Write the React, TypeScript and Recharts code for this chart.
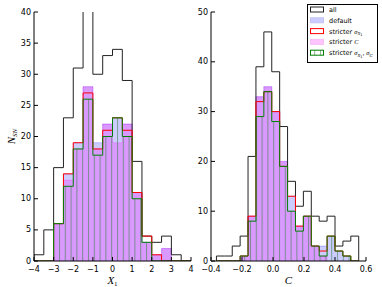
import React from "react"
import { ComposedChart, Area, XAxis, YAxis } from "recharts"

// left panel: X1 histogram, bins of 0.5
const x1Edges = [-4, -3.5, -3, -2.5, -2, -1.5, -1, -0.5, 0, 0.5, 1, 1.5, 2, 2.5, 3, 3.5, 4]
const x1All = [1, 5, 15, 23, 31, 44, 30, 33, 34, 29, 16, 4, 3, 4, 1, 0]
const x1Default = [0, 0, 6, 14, 19, 28, 19, 22, 23, 22, 11, 3, 1, 2, 0, 0]
const x1StricterSx = [0, 0, 6, 14, 19, 27, 18, 21, 23, 21, 11, 4, 1, 0, 0, 0]
const x1StricterC = [0, 0, 6, 13, 18, 28, 18, 22, 19, 22, 11, 3, 1, 2, 0, 0]
const x1StricterBoth = [0, 0, 6, 12, 18, 26, 17, 20, 23, 20, 10, 3, 0, 0, 0, 0]
const x1Ticks = [-4, -3, -2, -1, 0, 1, 2, 3, 4]
const x1CountTicks = [0, 5, 10, 15, 20, 25, 30, 35, 40]

// right panel: C histogram
const cEdges = [-0.365, -0.314, -0.263, -0.212, -0.161, -0.11, -0.059, -0.008, 0.043, 0.094, 0.145, 0.196, 0.247, 0.298, 0.349, 0.4, 0.451, 0.502, 0.553]
const cAll = [1, 1, 3, 5, 21, 39, 46, 38, 27, 16, 11, 14, 9, 8, 9, 3, 4, 5]
const cDefault = [0, 0, 0, 1, 9, 33, 35, 30, 20, 13, 7, 9, 3, 3, 5, 2, 1, 0]
const cStricterSx = [0, 0, 0, 1, 9, 32, 34, 30, 19, 13, 7, 9, 3, 2, 5, 2, 1, 0]
const cStricterC = [0, 0, 0, 1, 9, 33, 35, 30, 20, 10, 7, 9, 3, 1, 0, 0, 0, 0]
const cStricterBoth = [0, 0, 0, 1, 8, 29, 34, 28, 19, 10, 6, 9, 3, 1, 5, 2, 1, 0]
const cTicks = [-0.4, -0.2, 0, 0.2, 0.4, 0.6]
const cCountTicks = [0, 10, 20, 30, 40, 50]

const keys = ["all", "def", "sx", "sc", "both"]

function histRows(edges: number[], series: number[][]) {
  const rows: any[] = []
  const first: any = { x: edges[0] }
  keys.forEach((k) => (first[k] = 0))
  rows.push(first)
  edges.forEach((e, i) => {
    const row: any = { x: e }
    keys.forEach((k, j) => (row[k] = i < edges.length - 1 ? series[j][i] : 0))
    rows.push(row)
  })
  return rows
}

const x1Data = histRows(x1Edges, [x1All, x1Default, x1StricterSx, x1StricterC, x1StricterBoth])
const cData = histRows(cEdges, [cAll, cDefault, cStricterSx, cStricterC, cStricterBoth])

const tickFont = "DejaVu Sans, sans-serif"
const mathFont = "Liberation Serif, DejaVu Serif, serif"
const minus = (s: string) => s.replace("-", "\u2212")
const fmtInt = (v: number) => minus(String(v))
const fmtDec = (v: number) => minus(v.toFixed(1))

const bottomTick = (fmt: (v: number) => string) => (p: any) => (
  <g>
    <line x1={p.x} x2={p.x} y1={p.y} y2={p.y - 4} stroke="#000" />
    <text x={p.x} y={p.y + 11} textAnchor="middle" fontSize={8} fontFamily={tickFont} fill="#000">
      {fmt(p.payload.value)}
    </text>
  </g>
)
const topTick = (p: any) => <line x1={p.x} x2={p.x} y1={p.y} y2={p.y + 4} stroke="#000" />
const leftTick = (p: any) => (
  <g>
    <line x1={p.x} x2={p.x + 4} y1={p.y} y2={p.y} stroke="#000" />
    <text x={p.x - 3} y={p.y + 2.5} textAnchor="end" fontSize={8} fontFamily={tickFont} fill="#000">
      {p.payload.value}
    </text>
  </g>
)
const rightTick = (p: any) => <line x1={p.x} x2={p.x - 4} y1={p.y} y2={p.y} stroke="#000" />

function Series() {
  return [
    <Area key="def" type="stepAfter" dataKey="def" fill="blue" fillOpacity={0.2} stroke="blue" strokeOpacity={0.2} dot={false} activeDot={false} isAnimationActive={false} />,
    <Area key="sc" type="stepAfter" dataKey="sc" fill="magenta" fillOpacity={0.25} stroke="magenta" strokeOpacity={0.2} dot={false} activeDot={false} isAnimationActive={false} />,
    <Area key="all" type="stepAfter" dataKey="all" fill="none" stroke="#222" strokeWidth={1} dot={false} activeDot={false} isAnimationActive={false} />,
    <Area key="sx" type="stepAfter" dataKey="sx" fill="none" stroke="red" strokeWidth={1} dot={false} activeDot={false} isAnimationActive={false} />,
    <Area key="both" type="stepAfter" dataKey="both" fill="url(#hatch)" fillOpacity={1} stroke="green" strokeWidth={1} dot={false} activeDot={false} isAnimationActive={false} />,
  ]
}

function Panel({ data, xDomain, xTicks, yDomain, yTicks, fmt, width, yWidth, right, xLabel }: any) {
  return (
    <ComposedChart width={width} height={287} data={data} margin={{ top: 12, right, bottom: 0, left: 0 }}>
      <XAxis
        dataKey="x" type="number" domain={xDomain} ticks={xTicks} interval={0} allowDataOverflow
        tickSize={0} tickMargin={0} height={26} axisLine={{ stroke: "#000" }} tick={bottomTick(fmt)}
        label={(p: any) => {
          const vb = p.viewBox || {}
          return (
            <text x={vb.x + vb.width / 2} y={vb.y + 23} textAnchor="middle" fontSize={11} fontStyle="italic" fontFamily={mathFont}>
              {xLabel}
            </text>
          )
        }}
      />
      <XAxis xAxisId="top" orientation="top" dataKey="x" type="number" domain={xDomain} ticks={xTicks} interval={0}
        allowDataOverflow tickSize={0} tickMargin={0} height={0} axisLine={{ stroke: "#000" }} tick={topTick} />
      <YAxis type="number" domain={yDomain} ticks={yTicks} interval={0} allowDataOverflow tickSize={0} tickMargin={0}
        width={yWidth} axisLine={{ stroke: "#000" }} tick={leftTick} />
      <YAxis yAxisId="right" orientation="right" type="number" domain={yDomain} ticks={yTicks} interval={0}
        allowDataOverflow tickSize={0} tickMargin={0} width={0} axisLine={{ stroke: "#000" }} tick={rightTick} />
      {Series()}
    </ComposedChart>
  )
}

const legendItems = ["all", "default", "stricter sx", "stricter C", "stricter both"]

function Sub({ children }: any) {
  return <tspan fontFamily={mathFont} fontStyle="italic">{children}</tspan>
}

function LegendLabel({ name }: { name: string }) {
  if (name === "stricter sx")
    return (<>stricter <Sub>σ</Sub><tspan fontSize={4.5} dy={1.5} fontFamily={mathFont} fontStyle="italic">X</tspan><tspan fontSize={3.5} dy={1}>1</tspan></>)
  if (name === "stricter C")
    return (<>stricter <Sub>C</Sub></>)
  if (name === "stricter both")
    return (<>stricter <Sub>σ</Sub><tspan fontSize={4.5} dy={1.5} fontFamily={mathFont} fontStyle="italic">X</tspan><tspan fontSize={3.5} dy={1}>1</tspan><tspan dy={-2.5} fontSize={6}>, </tspan><Sub>σ</Sub><tspan fontSize={4.5} dy={1.5} fontFamily={mathFont} fontStyle="italic">C</tspan></>)
  return <>{name}</>
}

const swatchStyle: Record<string, any> = {
  all: { fill: "#fff", stroke: "#222" },
  default: { fill: "#ccccff", stroke: "#c4c4f4" },
  "stricter sx": { fill: "#fff", stroke: "red" },
  "stricter C": { fill: "#ffc4ff", stroke: "#f4c0f4" },
  "stricter both": { fill: "url(#hatch)", stroke: "green" },
}

export default function App() {
  return (
    <div style={{ position: "absolute", left: 0, top: 0, width: 382, height: 287, background: "#fff" }}>
      <div style={{ position: "absolute", left: 0, top: 0 }}>
        <Panel data={x1Data} xDomain={[-4, 4]} xTicks={x1Ticks} yDomain={[0, 40]} yTicks={x1CountTicks}
          fmt={fmtInt} width={200} yWidth={34} right={9} xLabel={<>X<tspan fontSize={7} dy={2} fontStyle="normal">1</tspan></>} />
      </div>
      <div style={{ position: "absolute", left: 191, top: 0 }}>
        <Panel data={cData} xDomain={[-0.4, 0.6]} xTicks={cTicks} yDomain={[0, 50]} yTicks={cCountTicks}
          fmt={fmtDec} width={191} yWidth={20} right={16} xLabel="C" />
      </div>
      <svg width={382} height={287} style={{ position: "absolute", left: 0, top: 0, pointerEvents: "none" }}>
        <defs>
          <pattern id="hatch" patternUnits="userSpaceOnUse" width={5.8} height={10}>
            <line x1={1.5} x2={1.5} y1={0} y2={10} stroke="#2e7d32" strokeOpacity={0.55} strokeWidth={1} />
          </pattern>
        </defs>
        <text transform="translate(15,136.5) rotate(-90)" textAnchor="middle" fontSize={11} fontStyle="italic" fontFamily={mathFont}>
          N<tspan fontSize={7} dy={2}>SN</tspan>
        </text>
        <rect x={307.5} y={4.5} width={70} height={58} fill="#fff" stroke="#000" />
        {legendItems.map((name, i) => {
          const cy = 9.5 + i * 10.8
          return (
            <g key={name}>
              <rect x={310.5} y={cy - 2.5} width={13} height={5} {...swatchStyle[name]} />
              <text x={329} y={cy + 2.5} fontSize={6.5} fontFamily={tickFont}>
                <LegendLabel name={name} />
              </text>
            </g>
          )
        })}
      </svg>
    </div>
  )
}
